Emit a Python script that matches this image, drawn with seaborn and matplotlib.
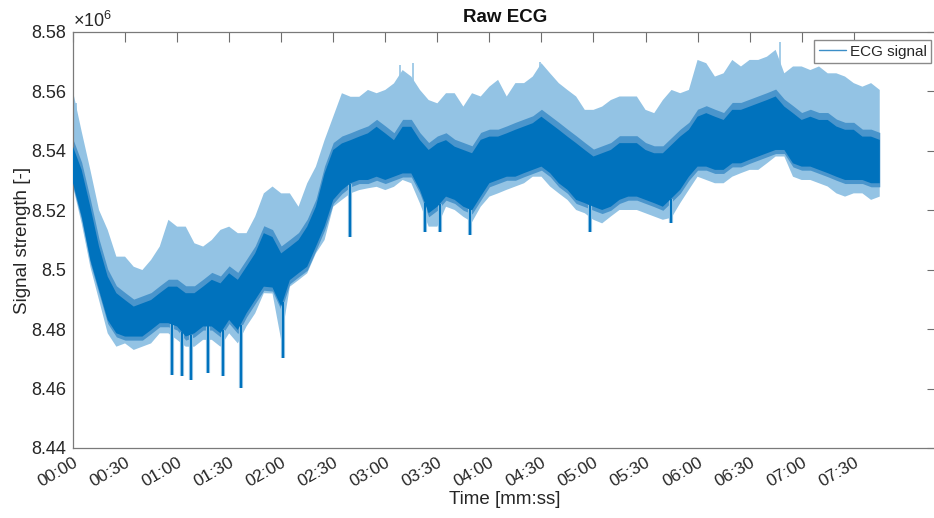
import numpy as np
import pandas as pd
import matplotlib
matplotlib.use("Agg")
import matplotlib.pyplot as plt
from matplotlib.lines import Line2D
import seaborn as sns

# ---------------- data (signal strength in units of 1e6) ----------------
time_s = list(range(0, 470, 5))  # seconds, sampled envelope of the ECG trace

peak = [8.5600, 8.5465, 8.5336, 8.5201, 8.5134, 8.5044, 8.5044, 8.5010, 8.4999, 8.5033,
        8.5078, 8.5168, 8.5145, 8.5145, 8.5089, 8.5078, 8.5100, 8.5134, 8.5145, 8.5123,
        8.5123, 8.5179, 8.5257, 8.5280, 8.5257, 8.5257, 8.5212, 8.5291, 8.5347, 8.5436,
        8.5515, 8.5594, 8.5582, 8.5582, 8.5605, 8.5594, 8.5605, 8.5627, 8.5672, 8.5650,
        8.5605, 8.5571, 8.5560, 8.5594, 8.5594, 8.5549, 8.5594, 8.5583, 8.5616, 8.5639,
        8.5583, 8.5628, 8.5628, 8.5650, 8.5695, 8.5661, 8.5628, 8.5605, 8.5583, 8.5538,
        8.5538, 8.5549, 8.5571, 8.5583, 8.5583, 8.5583, 8.5538, 8.5527, 8.5571, 8.5605,
        8.5594, 8.5605, 8.5706, 8.5695, 8.5650, 8.5661, 8.5706, 8.5684, 8.5706, 8.5706,
        8.5717, 8.5740, 8.5661, 8.5684, 8.5684, 8.5672, 8.5684, 8.5661, 8.5661, 8.5650,
        8.5628, 8.5616, 8.5628, 8.5605]

core_hi = [8.5414, 8.5336, 8.5212, 8.5078, 8.4977, 8.4921, 8.4898, 8.4876, 8.4887, 8.4898,
           8.4921, 8.4943, 8.4943, 8.4921, 8.4921, 8.4943, 8.4966, 8.4954, 8.4988, 8.4966,
           8.5010, 8.5055, 8.5123, 8.5110, 8.5055, 8.5077, 8.5100, 8.5145, 8.5212, 8.5324,
           8.5403, 8.5425, 8.5436, 8.5448, 8.5459, 8.5481, 8.5459, 8.5436, 8.5481, 8.5481,
           8.5436, 8.5403, 8.5425, 8.5436, 8.5414, 8.5403, 8.5392, 8.5437, 8.5448, 8.5448,
           8.5459, 8.5471, 8.5482, 8.5493, 8.5515, 8.5493, 8.5471, 8.5448, 8.5426, 8.5403,
           8.5381, 8.5392, 8.5403, 8.5426, 8.5426, 8.5426, 8.5403, 8.5392, 8.5392, 8.5420,
           8.5448, 8.5471, 8.5515, 8.5527, 8.5515, 8.5504, 8.5538, 8.5538, 8.5549, 8.5560,
           8.5571, 8.5583, 8.5549, 8.5527, 8.5504, 8.5515, 8.5504, 8.5504, 8.5482, 8.5471,
           8.5471, 8.5448, 8.5448, 8.5437]

core_lo = [8.5291, 8.5179, 8.5033, 8.4932, 8.4831, 8.4786, 8.4775, 8.4775, 8.4775, 8.4797,
           8.4820, 8.4820, 8.4809, 8.4775, 8.4786, 8.4809, 8.4809, 8.4786, 8.4831, 8.4797,
           8.4853, 8.4898, 8.4943, 8.4940, 8.4876, 8.4965, 8.4988, 8.5010, 8.5077, 8.5145,
           8.5235, 8.5268, 8.5291, 8.5302, 8.5302, 8.5313, 8.5302, 8.5313, 8.5324, 8.5324,
           8.5268, 8.5190, 8.5212, 8.5246, 8.5235, 8.5212, 8.5200, 8.5246, 8.5291, 8.5302,
           8.5313, 8.5313, 8.5325, 8.5336, 8.5347, 8.5325, 8.5291, 8.5269, 8.5235, 8.5224,
           8.5212, 8.5201, 8.5212, 8.5235, 8.5246, 8.5246, 8.5235, 8.5224, 8.5212, 8.5240,
           8.5269, 8.5313, 8.5347, 8.5347, 8.5336, 8.5336, 8.5358, 8.5358, 8.5370, 8.5381,
           8.5392, 8.5403, 8.5403, 8.5358, 8.5347, 8.5347, 8.5336, 8.5325, 8.5313, 8.5302,
           8.5302, 8.5302, 8.5291, 8.5291]

low = [8.5280, 8.5156, 8.5010, 8.4898, 8.4786, 8.4741, 8.4752, 8.4730, 8.4741, 8.4752,
       8.4786, 8.4786, 8.4764, 8.4741, 8.4741, 8.4764, 8.4764, 8.4741, 8.4786, 8.4752,
       8.4809, 8.4853, 8.4921, 8.4920, 8.4763, 8.4943, 8.4965, 8.4988, 8.5055, 8.5100,
       8.5212, 8.5235, 8.5257, 8.5268, 8.5274, 8.5279, 8.5268, 8.5279, 8.5302, 8.5291,
       8.5223, 8.5145, 8.5145, 8.5212, 8.5201, 8.5178, 8.5160, 8.5212, 8.5246, 8.5257,
       8.5269, 8.5280, 8.5291, 8.5313, 8.5313, 8.5280, 8.5257, 8.5235, 8.5201, 8.5190,
       8.5168, 8.5156, 8.5179, 8.5201, 8.5201, 8.5201, 8.5190, 8.5179, 8.5168, 8.5175,
       8.5224, 8.5269, 8.5313, 8.5302, 8.5291, 8.5291, 8.5313, 8.5325, 8.5336, 8.5336,
       8.5358, 8.5381, 8.5381, 8.5313, 8.5302, 8.5302, 8.5291, 8.5280, 8.5257, 8.5246,
       8.5257, 8.5257, 8.5235, 8.5246]

# isolated sharp downward excursions (time s, value)
dip_t = [56.8, 62.6, 68.0, 78.0, 86.2, 96.6, 120.8, 159.6, 202.8, 211.4, 228.7, 298.2, 344.9]
dip_v = [8.4645, 8.4641, 8.4630, 8.4652, 8.4641, 8.4602, 8.4703, 8.5111, 8.5128, 8.5128,
         8.5117, 8.5128, 8.5156]

# tallest R-peaks (time s, value)
spike_t = [2.0, 188.4, 196.1, 269.4, 407.3]
spike_v = [8.5560, 8.5689, 8.5694, 8.5700, 8.5768]

x_ticks = list(range(0, 451, 30))
x_tick_labels = ["00:00", "00:30", "01:00", "01:30", "02:00", "02:30", "03:00", "03:30",
                 "04:00", "04:30", "05:00", "05:30", "06:00", "06:30", "07:00", "07:30"]
y_ticks = [8.44, 8.46, 8.48, 8.50, 8.52, 8.54, 8.56, 8.58]
y_tick_labels = ["8.44", "8.46", "8.48", "8.5", "8.52", "8.54", "8.56", "8.58"]

# ---------------- styling ----------------
sns.set_style("white")
plt.rcParams["font.family"] = ["Liberation Sans", "DejaVu Sans"]
plt.rcParams["mathtext.fontset"] = "custom"
plt.rcParams["mathtext.rm"] = "Liberation Sans"

DARK = "#0072BD"
MID = "#4a95cc"
LIGHT = "#93c3e4"

W, H = 934, 518
fig = plt.figure(figsize=(W / 100, H / 100), dpi=100)
ax = fig.add_axes([73 / W, 1 - 448 / H, (937 - 73) / W, (448 - 32) / H])

full = pd.DataFrame({"t": time_s * 2, "v": low + peak})
core = pd.DataFrame({"t": time_s * 2, "v": core_lo + core_hi})

sns.lineplot(data=full, x="t", y="v", ax=ax, color=LIGHT, linewidth=0,
             errorbar=("pi", 100), err_kws={"alpha": 1.0, "edgecolor": "none"})
ax.vlines(spike_t, np.interp(spike_t, time_s, core_hi), spike_v, color=LIGHT, lw=1.2, zorder=2)
# soft fringe around the dense core
ax.fill_between(time_s, np.array(core_lo) - 0.0012, np.array(core_hi) + 0.0025,
                color=MID, lw=0, zorder=2.5)
sns.lineplot(data=core, x="t", y="v", ax=ax, color=DARK, linewidth=0,
             errorbar=("pi", 100), err_kws={"alpha": 1.0, "edgecolor": "none", "zorder": 3})
ax.vlines(dip_t, np.interp(dip_t, time_s, core_lo), dip_v, color=LIGHT, lw=3.0, zorder=2.8)
ax.vlines(dip_t, np.interp(dip_t, time_s, core_lo), dip_v, color=DARK, lw=1.5, zorder=3)

ax.set_xlim(0, 498)
ax.set_ylim(8.44, 8.58)
ax.set_xticks(x_ticks)
ax.set_xticklabels(x_tick_labels, rotation=30, ha="right", rotation_mode="anchor", fontsize=12.5)
ax.set_yticks(y_ticks)
ax.set_yticklabels(y_tick_labels, fontsize=13)
ax.tick_params(direction="in", length=7, width=0.8, color="#6e6e6e",
               top=True, right=True, labelcolor="#262626", pad=5)
for s in ax.spines.values():
    s.set_color("#7a7a7a")
    s.set_linewidth(0.9)
    s.set_visible(True)

ax.set_title("Raw ECG", fontsize=13.5, fontweight="bold", color="#111111", pad=7)
ax.set_xlabel("Time [mm:ss]", fontsize=13.5, color="#262626", labelpad=1)
ax.set_ylabel("Signal strength [-]", fontsize=13.5, color="#262626", labelpad=0)
ax.text(0.0, 1.003, r"$\times10^{6}$", transform=ax.transAxes, fontsize=13,
        color="#262626", ha="left", va="bottom")

handle = Line2D([0], [0], color="#3b8ec7", lw=1.0)
ax.legend([handle], ["ECG signal"], loc="upper right",
          bbox_to_anchor=(931 / W, 1 - 40 / H), bbox_transform=fig.transFigure,
          frameon=True, fancybox=False, framealpha=1, edgecolor="#8a8a8a",
          fontsize=11, handlelength=1.8, handletextpad=0.2, borderpad=0.3,
          borderaxespad=0)

fig.savefig("out.png", dpi=100)
